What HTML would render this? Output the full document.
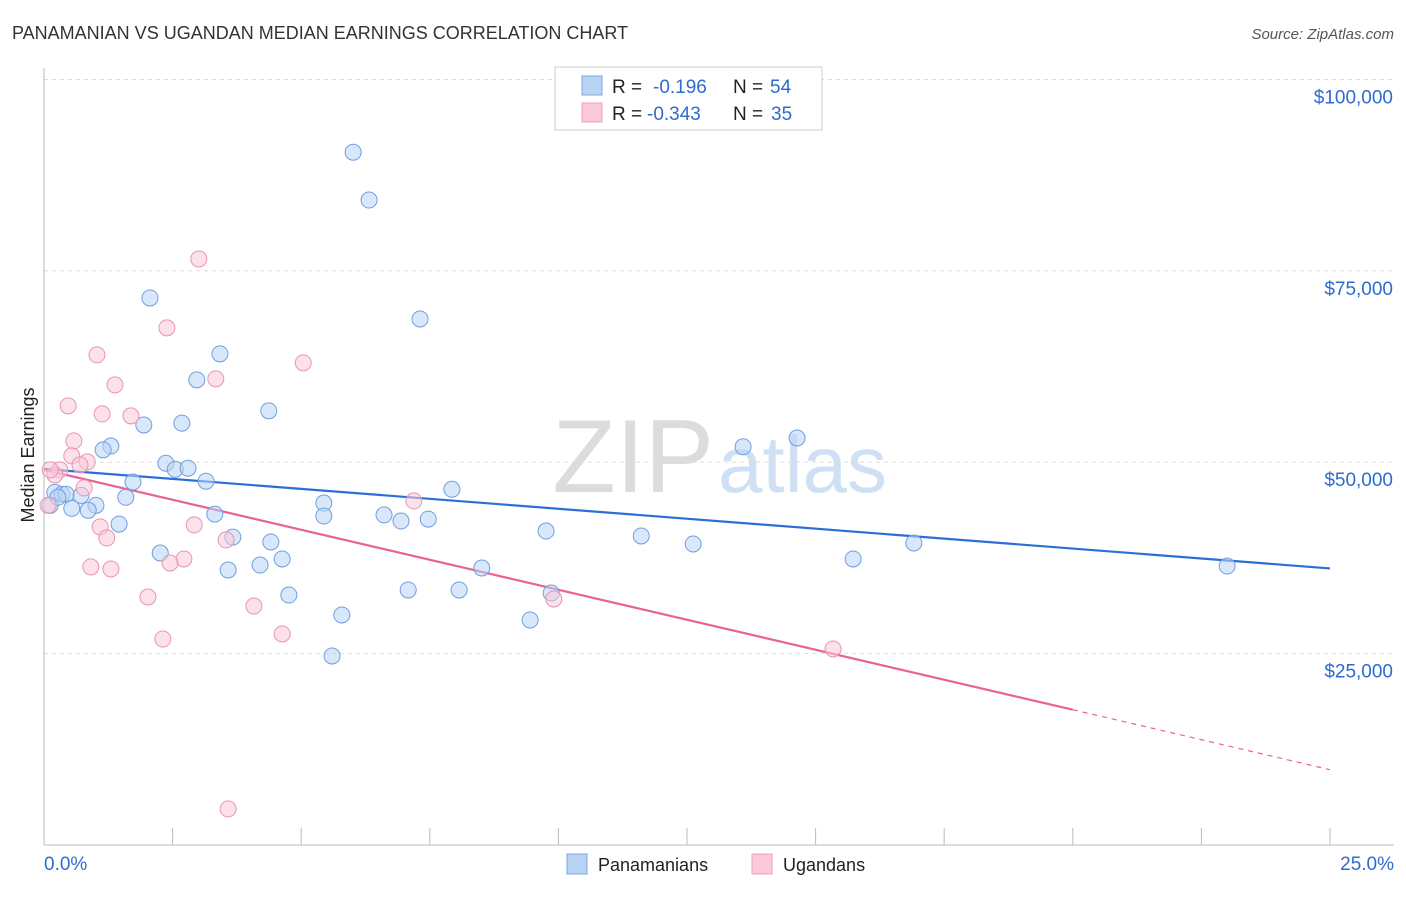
<!DOCTYPE html>
<html><head><meta charset="utf-8"><style>
body{margin:0;background:#fff;font-family:"Liberation Sans",sans-serif;}
svg text{font-family:"Liberation Sans",sans-serif;}
</style></head><body>
<svg id="chart" width="1406" height="892" viewBox="0 0 1406 892" xmlns="http://www.w3.org/2000/svg">
<text x="12" y="39" font-size="18" fill="#333">PANAMANIAN VS UGANDAN MEDIAN EARNINGS CORRELATION CHART</text>
<text x="1394" y="39" font-size="15" fill="#555" text-anchor="end" font-style="italic">Source: ZipAtlas.com</text>
<text x="714" y="492" font-size="104" fill="#dcdcdc" text-anchor="end" font-family="Liberation Serif">ZIP</text>
<text x="718" y="492" font-size="80" fill="#cfe0f4">atlas</text>
<g id="grid"></g>
<g id="axes"></g>
<g id="trend"></g>
<g id="points"></g>
<text transform="translate(34,455) rotate(-90)" font-size="18" fill="#222" text-anchor="middle">Median Earnings</text>
<g>
<rect x="555" y="67" width="267" height="63" fill="#fff" stroke="#ccc"/>
<rect x="582" y="76" width="20" height="19" fill="#b9d3f5" stroke="#7aa6e4"/>
<rect x="582" y="103" width="20" height="19" fill="#fbc9d9" stroke="#eda0bb"/>
<text x="612" y="93" font-size="19" fill="#222">R =</text>
<text x="653" y="93" font-size="19" fill="#2e6bd0">-0.196</text>
<text x="733" y="93" font-size="19" fill="#222">N =</text>
<text x="770" y="93" font-size="19" fill="#2e6bd0">54</text>
<text x="612" y="120" font-size="19" fill="#222">R =</text>
<text x="647" y="120" font-size="19" fill="#2e6bd0">-0.343</text>
<text x="733" y="120" font-size="19" fill="#222">N =</text>
<text x="771" y="120" font-size="19" fill="#2e6bd0">35</text>
</g>
<g>
<rect x="567" y="854" width="20" height="20" fill="#b9d3f5" stroke="#7aa6e4"/>
<text x="598" y="871" font-size="18" fill="#222">Panamanians</text>
<rect x="752" y="854" width="20" height="20" fill="#fbc9d9" stroke="#eda0bb"/>
<text x="783" y="871" font-size="18" fill="#222">Ugandans</text>
</g>
</svg>
<script>
const yTicks=[25000,50000,75000,100000];
const yTickLabels=["$25,000","$50,000","$75,000","$100,000"];
const xTickLabels=["0.0%","25.0%"];
const blueX=[6.01,6.32,2.06,7.31,3.42,2.97,4.37,1.94,2.68,1.30,1.15,13.59,14.64,2.37,2.55,2.80,1.73,3.15,7.93,0.21,0.35,0.43,0.72,1.59,1.01,0.54,0.86,5.44,5.44,3.32,6.61,6.94,7.47,1.46,9.76,3.67,11.61,12.62,16.91,4.41,2.26,4.63,15.73,3.58,4.20,8.51,23.0,7.08,8.07,9.86,4.76,5.79,9.45,5.60,0.12,0.27];
const blueY=[90500,84250,71450,68700,64150,60750,56700,54850,55100,52100,51600,52000,53150,49850,49050,49200,47400,47500,46450,46050,45800,45800,45650,45400,44350,43950,43700,44650,42950,43200,43100,42300,42550,41900,40990,40200,40350,39300,39430,39560,38120,37340,37340,35900,36550,36160,36420,33290,33290,32900,32630,30020,29370,24660,44350,45400];
const pinkX=[3.01,2.39,1.03,5.04,3.34,1.38,0.47,1.13,1.69,0.58,0.54,0.84,0.70,0.31,0.21,0.78,7.19,1.09,2.92,1.22,3.54,2.72,2.45,0.91,1.30,2.02,4.08,9.91,4.63,2.31,15.34,3.58,0.12,0.08];
const pinkY=[76550,67540,64010,62970,60880,60090,57350,56300,56040,52770,50810,50030,49630,48980,48330,46630,44930,41530,41790,40090,39830,37340,36820,36300,36030,32370,31190,32110,27540,26880,25580,4680,48980,44350];
const blueTrend=[49100,36100];
const pinkTrend=[49000,9800];
const pinkSolidEnd=20;
const NS="http://www.w3.org/2000/svg";
const X=v=>44+v/25*1286;
const Y=v=>844.7-v/25000*191.3;
function mk(tag,attrs,parent){const e=document.createElementNS(NS,tag);for(const k in attrs)e.setAttribute(k,attrs[k]);document.getElementById(parent).appendChild(e);return e;}
yTicks.forEach((t,i)=>{
 const g=mk('line',{x1:44,x2:1394,y1:Y(t),y2:Y(t),stroke:'#ddd','stroke-dasharray':'4,4'},'grid');
 
 
 const tx=mk('text',{x:1393,y:Y(t)+24,'font-size':19,fill:'#2e6bd0','text-anchor':'end'},'axes');
 tx.textContent=yTickLabels[i];
 
 
});
const ya=mk('line',{x1:44,x2:44,y1:68,y2:845,stroke:'#bbb'},'axes');


const xa=mk('line',{x1:44,x2:1394,y1:845,y2:845,stroke:'#bbb'},'axes');


for(let i=0;i<=10;i++){const tk=mk('line',{x1:X(i*2.5),x2:X(i*2.5),y1:828,y2:845,stroke:'#bbb'},'axes');
 
 }
[[0,'start',44],[25,'end',1394]].forEach((d,i)=>{const t=mk('text',{x:d[2],y:870,'font-size':19,fill:'#2e6bd0','text-anchor':d[1]},'axes');t.textContent=xTickLabels[i];
 
 });
function drawPts(xs,ys,fill,stroke,name){xs.forEach((x,i)=>{const c=mk('circle',{cx:X(x),cy:Y(ys[i]),r:8,fill:fill,'fill-opacity':0.55,stroke:stroke,'stroke-width':1},'points');
 
 });}
drawPts(blueX,blueY,'#b9d3f5','#6f9fe0','panamanian-point');
drawPts(pinkX,pinkY,'#fbc9d9','#e894b2','ugandan-point');
const bl=mk('line',{x1:X(0),y1:Y(blueTrend[0]),x2:X(25),y2:Y(blueTrend[1]),stroke:'#2b6fd6','stroke-width':2.2},'trend');


const pv=x=>pinkTrend[0]+(pinkTrend[1]-pinkTrend[0])*x/25;
const pl=mk('line',{x1:X(0),y1:Y(pv(0)),x2:X(pinkSolidEnd),y2:Y(pv(pinkSolidEnd)),stroke:'#e8638f','stroke-width':2.2},'trend');


const pd=mk('line',{x1:X(pinkSolidEnd),y1:Y(pv(pinkSolidEnd)),x2:X(25),y2:Y(pv(25)),stroke:'#e8638f','stroke-width':1.2,'stroke-dasharray':'5,5'},'trend');


</script>
</body></html>
